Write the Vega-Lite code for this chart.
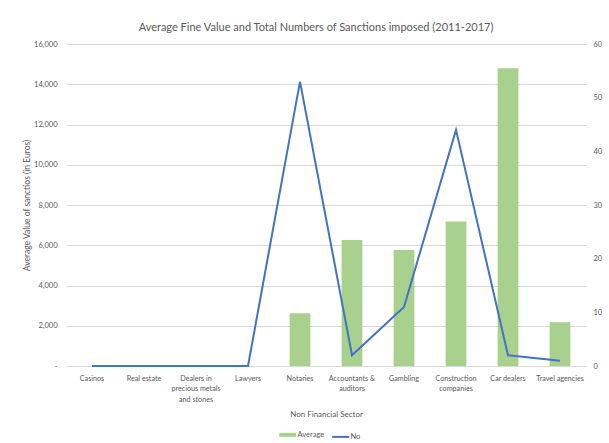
{
  "$schema": "https://vega.github.io/schema/vega-lite/v6.json",
  "width": 520,
  "height": 322,
  "autosize": "none",
  "padding": {"left": 66, "top": 44, "right": 23, "bottom": 77},
  "background": "white",
  "title": {
    "text": "Average Fine Value and Total Numbers of Sanctions imposed (2011-2017)",
    "font": "Lato",
    "fontSize": 11,
    "fontWeight": "normal",
    "color": "#595959",
    "anchor": "middle",
    "dx": -10,
    "offset": 7
  },
  "data": {
    "values": [
      {"sector": "Casinos", "average": 0, "count": 0},
      {"sector": "Real estate", "average": 0, "count": 0},
      {"sector": "Dealers in precious metals and stones", "average": 0, "count": 0},
      {"sector": "Lawyers", "average": 0, "count": 0},
      {"sector": "Notaries", "average": 2620, "count": 53},
      {"sector": "Accountants & auditors", "average": 6260, "count": 2},
      {"sector": "Gambling", "average": 5760, "count": 11},
      {"sector": "Construction companies", "average": 7180, "count": 44},
      {"sector": "Car dealers", "average": 14800, "count": 2},
      {"sector": "Travel agencies", "average": 2180, "count": 1}
    ]
  },
  "encoding": {
    "x": {
      "field": "sector",
      "type": "nominal",
      "sort": null,
      "scale": {"paddingInner": 0.6, "paddingOuter": 0.3},
      "axis": {
        "title": "Non Financial Sector",
        "labelAngle": 0,
        "labelExpr": "datum.value == 'Dealers in precious metals and stones' ? ['Dealers in', 'precious metals', 'and stones'] : datum.value == 'Accountants & auditors' ? ['Accountants &', 'auditors'] : datum.value == 'Construction companies' ? ['Construction', 'companies'] : datum.value",
        "labelFontSize": 7.2,
        "labelLineHeight": 10.5,
        "labelPadding": 8,
        "labelBaseline": "top",
        "labelLimit": 0,
        "domain": false,
        "ticks": false,
        "titleFontSize": 8,
        "titlePadding": 8
      }
    }
  },
  "layer": [
    {
      "mark": {"type": "bar", "color": "#A9D18E"},
      "encoding": {
        "y": {
          "field": "average",
          "type": "quantitative",
          "scale": {"domain": [0, 16000], "nice": false},
          "axis": {
            "title": "Average Value of sanctios (in Euros)",
            "values": [0, 2000, 4000, 6000, 8000, 10000, 12000, 14000, 16000],
            "labelExpr": "datum.value === 0 ? '-' : format(datum.value, ',')",
            "grid": true,
            "domain": false,
            "ticks": false,
            "labelPadding": 9,
            "titleFontSize": 8.5,
            "titlePadding": 2
          }
        },
        "color": {
          "datum": "Average",
          "legend": {
            "orient": "none",
            "legendX": 218,
            "legendY": 387,
            "direction": "horizontal",
            "encode": {
              "symbols": {
                "update": {
                  "stroke": {"signal": "scale('color', datum.value)"},
                  "strokeWidth": {"signal": "datum.value === 'Average' ? 4 : 2"},
                  "fill": {"value": "transparent"},
                  "opacity": {"value": 1}
                }
              }
            }
          }
        }
      }
    },
    {
      "mark": {"type": "line", "strokeWidth": 2, "color": "#4472C4"},
      "encoding": {
        "y": {
          "field": "count",
          "type": "quantitative",
          "scale": {"domain": [0, 60], "nice": false},
          "axis": {
            "orient": "right",
            "title": "No of sanctions imposed",
            "values": [0, 10, 20, 30, 40, 50, 60],
            "grid": false,
            "domain": false,
            "ticks": false,
            "labelPadding": 7,
            "titleFontSize": 8.5,
            "titlePadding": 9
          }
        },
        "color": {"datum": "No"}
      }
    }
  ],
  "resolve": {"scale": {"y": "independent"}},
  "config": {
    "font": "Lato",
    "view": {"stroke": null},
    "range": {"category": ["#A9D18E", "#4472C4"]},
    "axis": {
      "labelFont": "Lato",
      "labelFontSize": 7.5,
      "labelColor": "#595959",
      "titleFont": "Lato",
      "titleFontSize": 7.5,
      "titleFontWeight": "normal",
      "titleColor": "#595959",
      "gridColor": "#D9D9D9",
      "gridWidth": 1
    },
    "legend": {
      "title": null,
      "symbolType": "stroke",
      "symbolSize": 289,
      "labelFont": "Lato",
      "labelFontSize": 7.5,
      "labelColor": "#595959",
      "labelOffset": 6,
      "columnPadding": 3
    }
  }
}
